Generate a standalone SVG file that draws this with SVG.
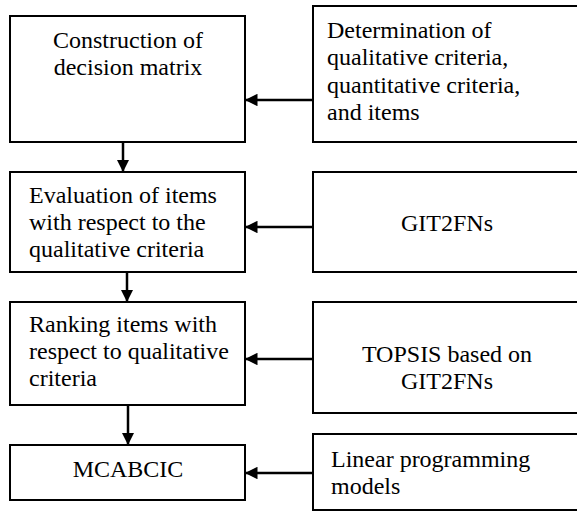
<svg xmlns="http://www.w3.org/2000/svg" width="577" height="511" viewBox="0 0 577 511">
<style>
.box{fill:#fff;stroke:#000;stroke-width:2}
.t{font-family:"Liberation Serif","Times New Roman",serif;font-size:24px;fill:#000}
.c{text-anchor:middle}
.conn{stroke:#000;stroke-width:2.5;fill:none}
</style>
<defs>
<marker id="ah" viewBox="0 0 10 10" refX="10" refY="5" markerWidth="5" markerHeight="5" markerUnits="strokeWidth" orient="auto">
<path d="M0,0 L10,5 L0,10 z" fill="#000"/>
</marker>
</defs>
<rect width="577" height="511" fill="#fff"/>
<g id="n1"><rect class="box" x="10" y="16" width="235" height="126"/>
<text class="t c" x="128" y="48">Construction of</text>
<text class="t c" x="128" y="75">decision matrix</text></g>
<g id="n2"><rect class="box" x="10" y="172" width="235" height="100"/>
<text class="t" x="29" y="203">Evaluation of items</text>
<text class="t" x="29" y="230">with respect to the</text>
<text class="t" x="29" y="257">qualitative criteria</text></g>
<g id="n3"><rect class="box" x="10" y="302" width="235" height="103"/>
<text class="t" x="29" y="332">Ranking items with</text>
<text class="t" x="29" y="359">respect to qualitative</text>
<text class="t" x="29" y="386">criteria</text></g>
<g id="n4"><rect class="box" x="10" y="445" width="235" height="55"/>
<text class="t c" x="128" y="477">MCABCIC</text></g>
<g id="r1"><rect class="box" x="313" y="6" width="270" height="136"/>
<text class="t" x="327" y="38">Determination of</text>
<text class="t" x="327" y="65">qualitative criteria,</text>
<text class="t" x="327" y="93">quantitative criteria,</text>
<text class="t" x="327" y="120">and items</text></g>
<g id="r2"><rect class="box" x="313" y="172" width="270" height="100"/>
<text class="t c" x="447" y="231">GIT2FNs</text></g>
<g id="r3"><rect class="box" x="313" y="302" width="270" height="111"/>
<text class="t c" x="447" y="362">TOPSIS based on</text>
<text class="t c" x="447" y="389">GIT2FNs</text></g>
<g id="r4"><rect class="box" x="313" y="434" width="270" height="76"/>
<text class="t" x="331" y="467">Linear programming</text>
<text class="t" x="331" y="494">models</text></g>
<g id="connectors">
<line class="conn" x1="123" y1="142" x2="123" y2="172" marker-end="url(#ah)"/>
<line class="conn" x1="127" y1="272" x2="127" y2="302" marker-end="url(#ah)"/>
<line class="conn" x1="128" y1="405" x2="128" y2="445" marker-end="url(#ah)"/>
<line class="conn" x1="313" y1="100" x2="245" y2="100" marker-end="url(#ah)"/>
<line class="conn" x1="313" y1="227" x2="245" y2="227" marker-end="url(#ah)"/>
<line class="conn" x1="313" y1="359" x2="245" y2="359" marker-end="url(#ah)"/>
<line class="conn" x1="313" y1="473" x2="245" y2="473" marker-end="url(#ah)"/>
</g>
</svg>
